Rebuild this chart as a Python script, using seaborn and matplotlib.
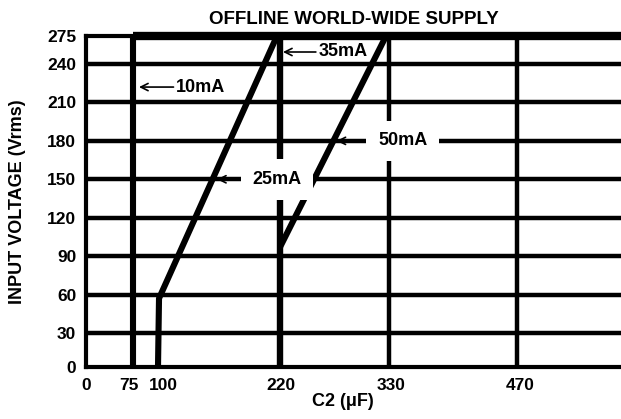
import numpy as np
import pandas as pd
import seaborn as sns
import matplotlib.pyplot as plt
import matplotlib.transforms as mtransforms

# axis ticks
x_ticks = [0, 75, 100, 220, 330, 470]
y_ticks = [0, 30, 60, 90, 120, 150, 180, 210, 240, 275]
grid_v = [30, 60, 90, 120, 150, 180, 210, 240]
grid_c = [330, 470]

# limit curves (C2 in uF, input voltage in Vrms)
c_10mA = [75, 75]
v_10mA = [0, 275]
c_25mA = [100, 101, 217]
v_25mA = [0, 57, 275]
c_35mA = [220, 220]
v_35mA = [0, 275]
c_50mA = [220, 327]
v_50mA = [97, 275]
c_max = [75, 585]
v_max = [275, 275]

# the drawn axes are not linear, so map values through a piecewise scale
XV = [0, 75, 100, 220, 330, 470, 585]
XP = [0, 47, 72, 194, 303, 431, 535]
YV = [0, 30, 240, 275]
YP = [0, 34, 303, 331]

sns.set_theme(style='white')
plt.rcParams['font.family'] = ['Liberation Sans', 'DejaVu Sans']
plt.rcParams['font.weight'] = 'bold'
plt.rcParams['text.color'] = 'black'
plt.rcParams['axes.labelcolor'] = 'black'
plt.rcParams['xtick.color'] = 'black'
plt.rcParams['ytick.color'] = 'black'

fig = plt.figure(figsize=(6.21, 4.19), dpi=100)
ax = fig.add_axes([86/621, 52/419, 535/621, 331/419])

ax.set_xscale('function', functions=(lambda v: np.interp(v, XV, XP),
                                     lambda p: np.interp(p, XP, XV)))
ax.set_yscale('function', functions=(lambda v: np.interp(v, YV, YP),
                                     lambda p: np.interp(p, YP, YV)))
ax.set_xlim(0, 585)
ax.set_ylim(0, 275)

for v in grid_v:
    ax.axhline(v, color='black', lw=3.2, zorder=1)
for c in grid_c:
    ax.axvline(c, color='black', lw=3.2, zorder=1)

kw = dict(ax=ax, color='black', estimator=None, sort=False, legend=False,
          solid_capstyle='butt', zorder=2)
sns.lineplot(x=c_10mA, y=v_10mA, lw=4.4, **kw)
sns.lineplot(x=c_35mA, y=v_35mA, lw=4.6, **kw)
sns.lineplot(x=c_25mA, y=v_25mA, lw=4.4, **kw)
sns.lineplot(x=c_50mA, y=v_50mA, lw=4.4, **kw)
sns.lineplot(x=c_max, y=v_max, lw=6, clip_on=False, **kw)

for side in ['left', 'bottom', 'top']:
    ax.spines[side].set_linewidth(3)
    ax.spines[side].set_color('black')
ax.spines['right'].set_visible(False)

ax.set_xticks(x_ticks)
ax.set_xticklabels([str(t) for t in x_ticks])
ax.set_yticks(y_ticks)
ax.set_yticklabels([str(t) for t in y_ticks])
ax.tick_params(axis='x', length=0, pad=8, labelsize=12.5, labelcolor='black')
ax.tick_params(axis='y', length=0, pad=7, labelsize=12.5, labelcolor='black')
for lab in ax.get_xticklabels() + ax.get_yticklabels():
    lab.set_fontweight('bold')

# nudge the crowded labels apart like the original drawing (pixels)
shift = {'75': -4, '100': 5, '220': 1, '330': 2, '470': 3}
for lab in ax.get_xticklabels():
    dx = shift.get(lab.get_text(), 0)
    lab.set_transform(lab.get_transform() +
                      mtransforms.ScaledTranslation(dx / 100, 0, fig.dpi_scale_trans))

ax.set_title('OFFLINE WORLD-WIDE SUPPLY', fontsize=13.5, fontweight='bold',
             pad=9, color='black')
ax.set_xlabel('C2 (\u03bcF)', fontsize=13, fontweight='bold', color='black')
ax.xaxis.set_label_coords(0.48, -0.08)
ax.set_ylabel('INPUT VOLTAGE (Vrms)', fontsize=13, fontweight='bold', color='black')
ax.yaxis.set_label_coords(-0.112, 0.5)


def label(text, tip, at, cover):
    box = dict(boxstyle='square,pad=0.65', fc='white', ec='none') if cover else None
    ax.annotate(text, xy=tip, xytext=at, ha='left', va='center', fontsize=13,
                fontweight='bold', color='black', bbox=box, zorder=4,
                arrowprops=dict(arrowstyle='->,head_length=0.4,head_width=0.2',
                                color='black', lw=1.2, relpos=(0, 0.5),
                                patchA=None, shrinkA=2, shrinkB=0))


label('10mA', (81, 222), (118, 222), False)
label('35mA', (223, 255), (259, 255), False)
label('25mA', (158, 150), (193, 150), True)
label('50mA', (277, 180), (319, 180), True)

fig.savefig('out.png', dpi=100)
